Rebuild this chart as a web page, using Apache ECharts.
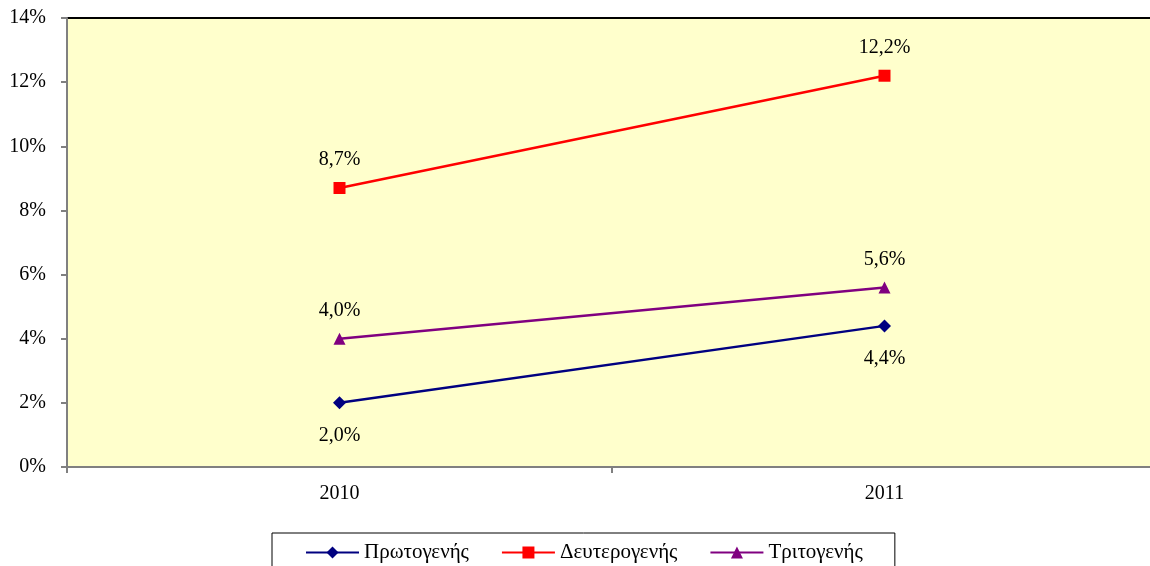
<!DOCTYPE html>
<html>
<head>
<meta charset="utf-8">
<script src="https://cdn.jsdelivr.net/npm/echarts@6/dist/echarts.min.js"></script>
<style>
html, body { margin: 0; padding: 0; background: #fff; }
#chart { width: 1150px; height: 566px; }
</style>
</head>
<body>
<div id="chart"></div>
<script>
var years = ['2010', '2011'];
var primary = [2.0, 4.4];
var secondary = [8.7, 12.2];
var tertiary = [4.0, 5.6];
var seriesNames = ['Πρωτογενής', 'Δευτερογενής', 'Τριτογενής'];

var font = 'Liberation Serif, Times New Roman, serif';

function pct(p) {
    return p.value.toFixed(1).replace('.', ',') + '%';
}

function makeSeries(name, data, color, symbol, size, pos, dist) {
    return {
        name: name,
        type: 'line',
        data: data,
        symbol: symbol,
        symbolSize: size,
        lineStyle: { color: color, width: 2.5 },
        itemStyle: { color: color },
        label: {
            show: true,
            position: pos,
            distance: dist,
            formatter: pct,
            color: '#000',
            fontFamily: font,
            fontSize: 20
        },
        emphasis: { disabled: true }
    };
}

var chart = echarts.init(document.getElementById('chart'));
chart.setOption({
    animation: false,
    grid: {
        left: 67,
        top: 18,
        right: -7,
        height: 449,
        outerBoundsMode: 'none',
        containLabel: false,
        show: true,
        backgroundColor: '#FFFFCC',
        borderColor: '#000',
        borderWidth: 2
    },
    legend: {
        data: seriesNames,
        left: 272,
        top: 533,
        padding: [9, 32, 9, 33],
        itemGap: 32,
        itemWidth: 53,
        itemHeight: 15,
        borderColor: '#000',
        borderWidth: 1,
        textStyle: { fontFamily: font, fontSize: 21, color: '#000' }
    },
    xAxis: {
        type: 'category',
        data: years,
        axisLine: { lineStyle: { color: '#808080', width: 2 } },
        axisTick: { show: true, length: 6, lineStyle: { color: '#808080', width: 2 } },
        axisLabel: { margin: 17, color: '#000', fontFamily: font, fontSize: 20 }
    },
    yAxis: {
        type: 'value',
        min: 0,
        max: 14,
        interval: 2,
        splitLine: { show: false },
        axisLine: { show: true, lineStyle: { color: '#808080', width: 2 } },
        axisTick: { show: true, length: 6, lineStyle: { color: '#808080', width: 2 } },
        axisLabel: {
            margin: 21,
            color: '#000',
            fontFamily: font,
            fontSize: 20,
            formatter: function (v) { return v + '%'; }
        }
    },
    series: [
        makeSeries(seriesNames[0], primary, '#000080', 'diamond', 13, 'bottom', 16),
        makeSeries(seriesNames[1], secondary, '#FF0000', 'rect', 12, 'top', 12),
        makeSeries(seriesNames[2], tertiary, '#800080', 'triangle', 12, 'top', 12)
    ]
});
</script>
</body>
</html>
